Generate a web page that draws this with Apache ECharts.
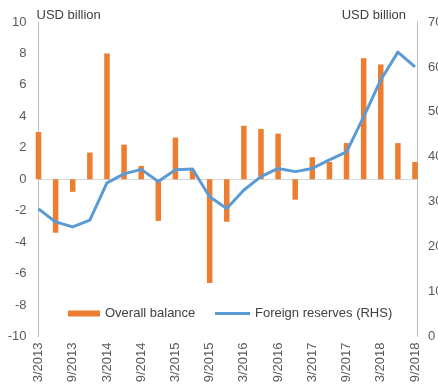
<!DOCTYPE html>
<html>
<head>
<meta charset="utf-8">
<script src="https://cdn.jsdelivr.net/npm/echarts@6/dist/echarts.min.js"></script>
<style>
  html, body { margin: 0; padding: 0; background: #fff; }
  #chart { width: 438px; height: 389px; }
</style>
</head>
<body>
<div id="chart"></div>
<script>
// Quarterly periods (month/year), Q1 2013 to Q3 2018
const quarters = [
  '3/2013', '6/2013', '9/2013', '12/2013',
  '3/2014', '6/2014', '9/2014', '12/2014',
  '3/2015', '6/2015', '9/2015', '12/2015',
  '3/2016', '6/2016', '9/2016', '12/2016',
  '3/2017', '6/2017', '9/2017', '12/2017',
  '3/2018', '6/2018', '9/2018'
];

// Overall balance of payments, USD billion (left axis)
const overallBalance = [
  3.0, -3.4, -0.8, 1.7,
  8.0, 2.2, 0.85, -2.65,
  2.65, 0.6, -6.6, -2.7,
  3.4, 3.2, 2.9, -1.3,
  1.4, 1.1, 2.3, 7.7,
  7.3, 2.3, 1.1
];

// Foreign exchange reserves, USD billion (right axis)
const foreignReserves = [
  28.4, 25.5, 24.4, 25.9,
  34.2, 36.2, 37.2, 34.5,
  37.1, 37.3, 31.1, 28.5,
  32.6, 35.6, 37.4, 36.7,
  37.4, 39.3, 41.1, 48.9,
  57.1, 63.3, 60.0
];

const leftTicks = { min: -10, max: 10, step: 2 };
const rightTicks = { min: 0, max: 70, step: 10 };

const textColor = '#595959';
const axisColor = '#bfbfbf';
const fontFamily = 'Liberation Sans, Arial, sans-serif';

const chart = echarts.init(document.getElementById('chart'), null, { renderer: 'canvas' });

chart.setOption({
  animation: false,
  backgroundColor: '#ffffff',
  textStyle: { fontFamily: fontFamily },
  grid: {
    left: 38.5, right: 23, top: 22, bottom: 52.5,
    containLabel: false,
    outerBoundsMode: 'none'
  },
  legend: [
    {
      data: [{ name: 'Overall balance', icon: 'rect' }],
      left: 63, top: 302,
      itemWidth: 32, itemHeight: 6, itemGap: 5,
      textStyle: { color: '#404040', fontSize: 13, fontFamily: fontFamily }
    },
    {
      data: [{ name: 'Foreign reserves (RHS)', icon: 'rect' }],
      left: 210, top: 302,
      itemWidth: 35, itemHeight: 3, itemGap: 3,
      textStyle: { color: '#404040', fontSize: 13, fontFamily: fontFamily }
    }
  ],
  xAxis: [
    {
      // baseline drawn through zero of the left scale
      type: 'category',
      data: quarters,
      boundaryGap: false,
      axisLine: { show: true, onZero: true, onZeroAxisIndex: 0, lineStyle: { color: '#d9d9d9', width: 1 } },
      axisTick: { show: false },
      axisLabel: { show: false },
      splitLine: { show: false }
    },
    {
      // period labels along the bottom edge
      type: 'category',
      data: quarters,
      boundaryGap: false,
      position: 'bottom',
      axisLine: { show: false, onZero: false },
      axisTick: { show: false },
      axisLabel: {
        interval: 1,
        rotate: 90,
        margin: 6,
        color: textColor,
        fontSize: 13,
        fontFamily: fontFamily
      },
      splitLine: { show: false }
    }
  ],
  yAxis: [
    {
      type: 'value',
      min: leftTicks.min, max: leftTicks.max, interval: leftTicks.step,
      position: 'left',
      name: 'USD billion',
      nameLocation: 'end',
      nameGap: 0,
      nameTextStyle: { color: '#404040', fontSize: 13, align: 'left', verticalAlign: 'bottom', padding: [0, 0, 0, -2] },
      axisLine: { show: true, lineStyle: { color: axisColor, width: 1 } },
      axisTick: { show: false },
      splitLine: { show: false },
      axisLabel: { color: textColor, fontSize: 13, margin: 12, fontFamily: fontFamily }
    },
    {
      type: 'value',
      min: rightTicks.min, max: rightTicks.max, interval: rightTicks.step,
      position: 'right',
      offset: 2,
      name: 'USD billion',
      nameLocation: 'end',
      nameGap: 0,
      nameTextStyle: { color: '#404040', fontSize: 13, align: 'right', verticalAlign: 'bottom', padding: [0, 11, 0, 0] },
      axisLine: { show: true, lineStyle: { color: axisColor, width: 1 } },
      axisTick: { show: false },
      splitLine: { show: false },
      axisLabel: { color: textColor, fontSize: 13, margin: 11, fontFamily: fontFamily }
    }
  ],
  series: [
    {
      name: 'Overall balance',
      type: 'bar',
      xAxisIndex: 0,
      yAxisIndex: 0,
      data: overallBalance,
      barWidth: 5.5,
      itemStyle: { color: '#ED7D31' },
      z: 2
    },
    {
      name: 'Foreign reserves (RHS)',
      type: 'line',
      xAxisIndex: 0,
      yAxisIndex: 1,
      data: foreignReserves,
      symbol: 'none',
      showSymbol: false,
      lineStyle: { color: '#5B9BD5', width: 3, join: 'round' },
      itemStyle: { color: '#5B9BD5' },
      z: 3
    }
  ]
});
</script>
</body>
</html>
